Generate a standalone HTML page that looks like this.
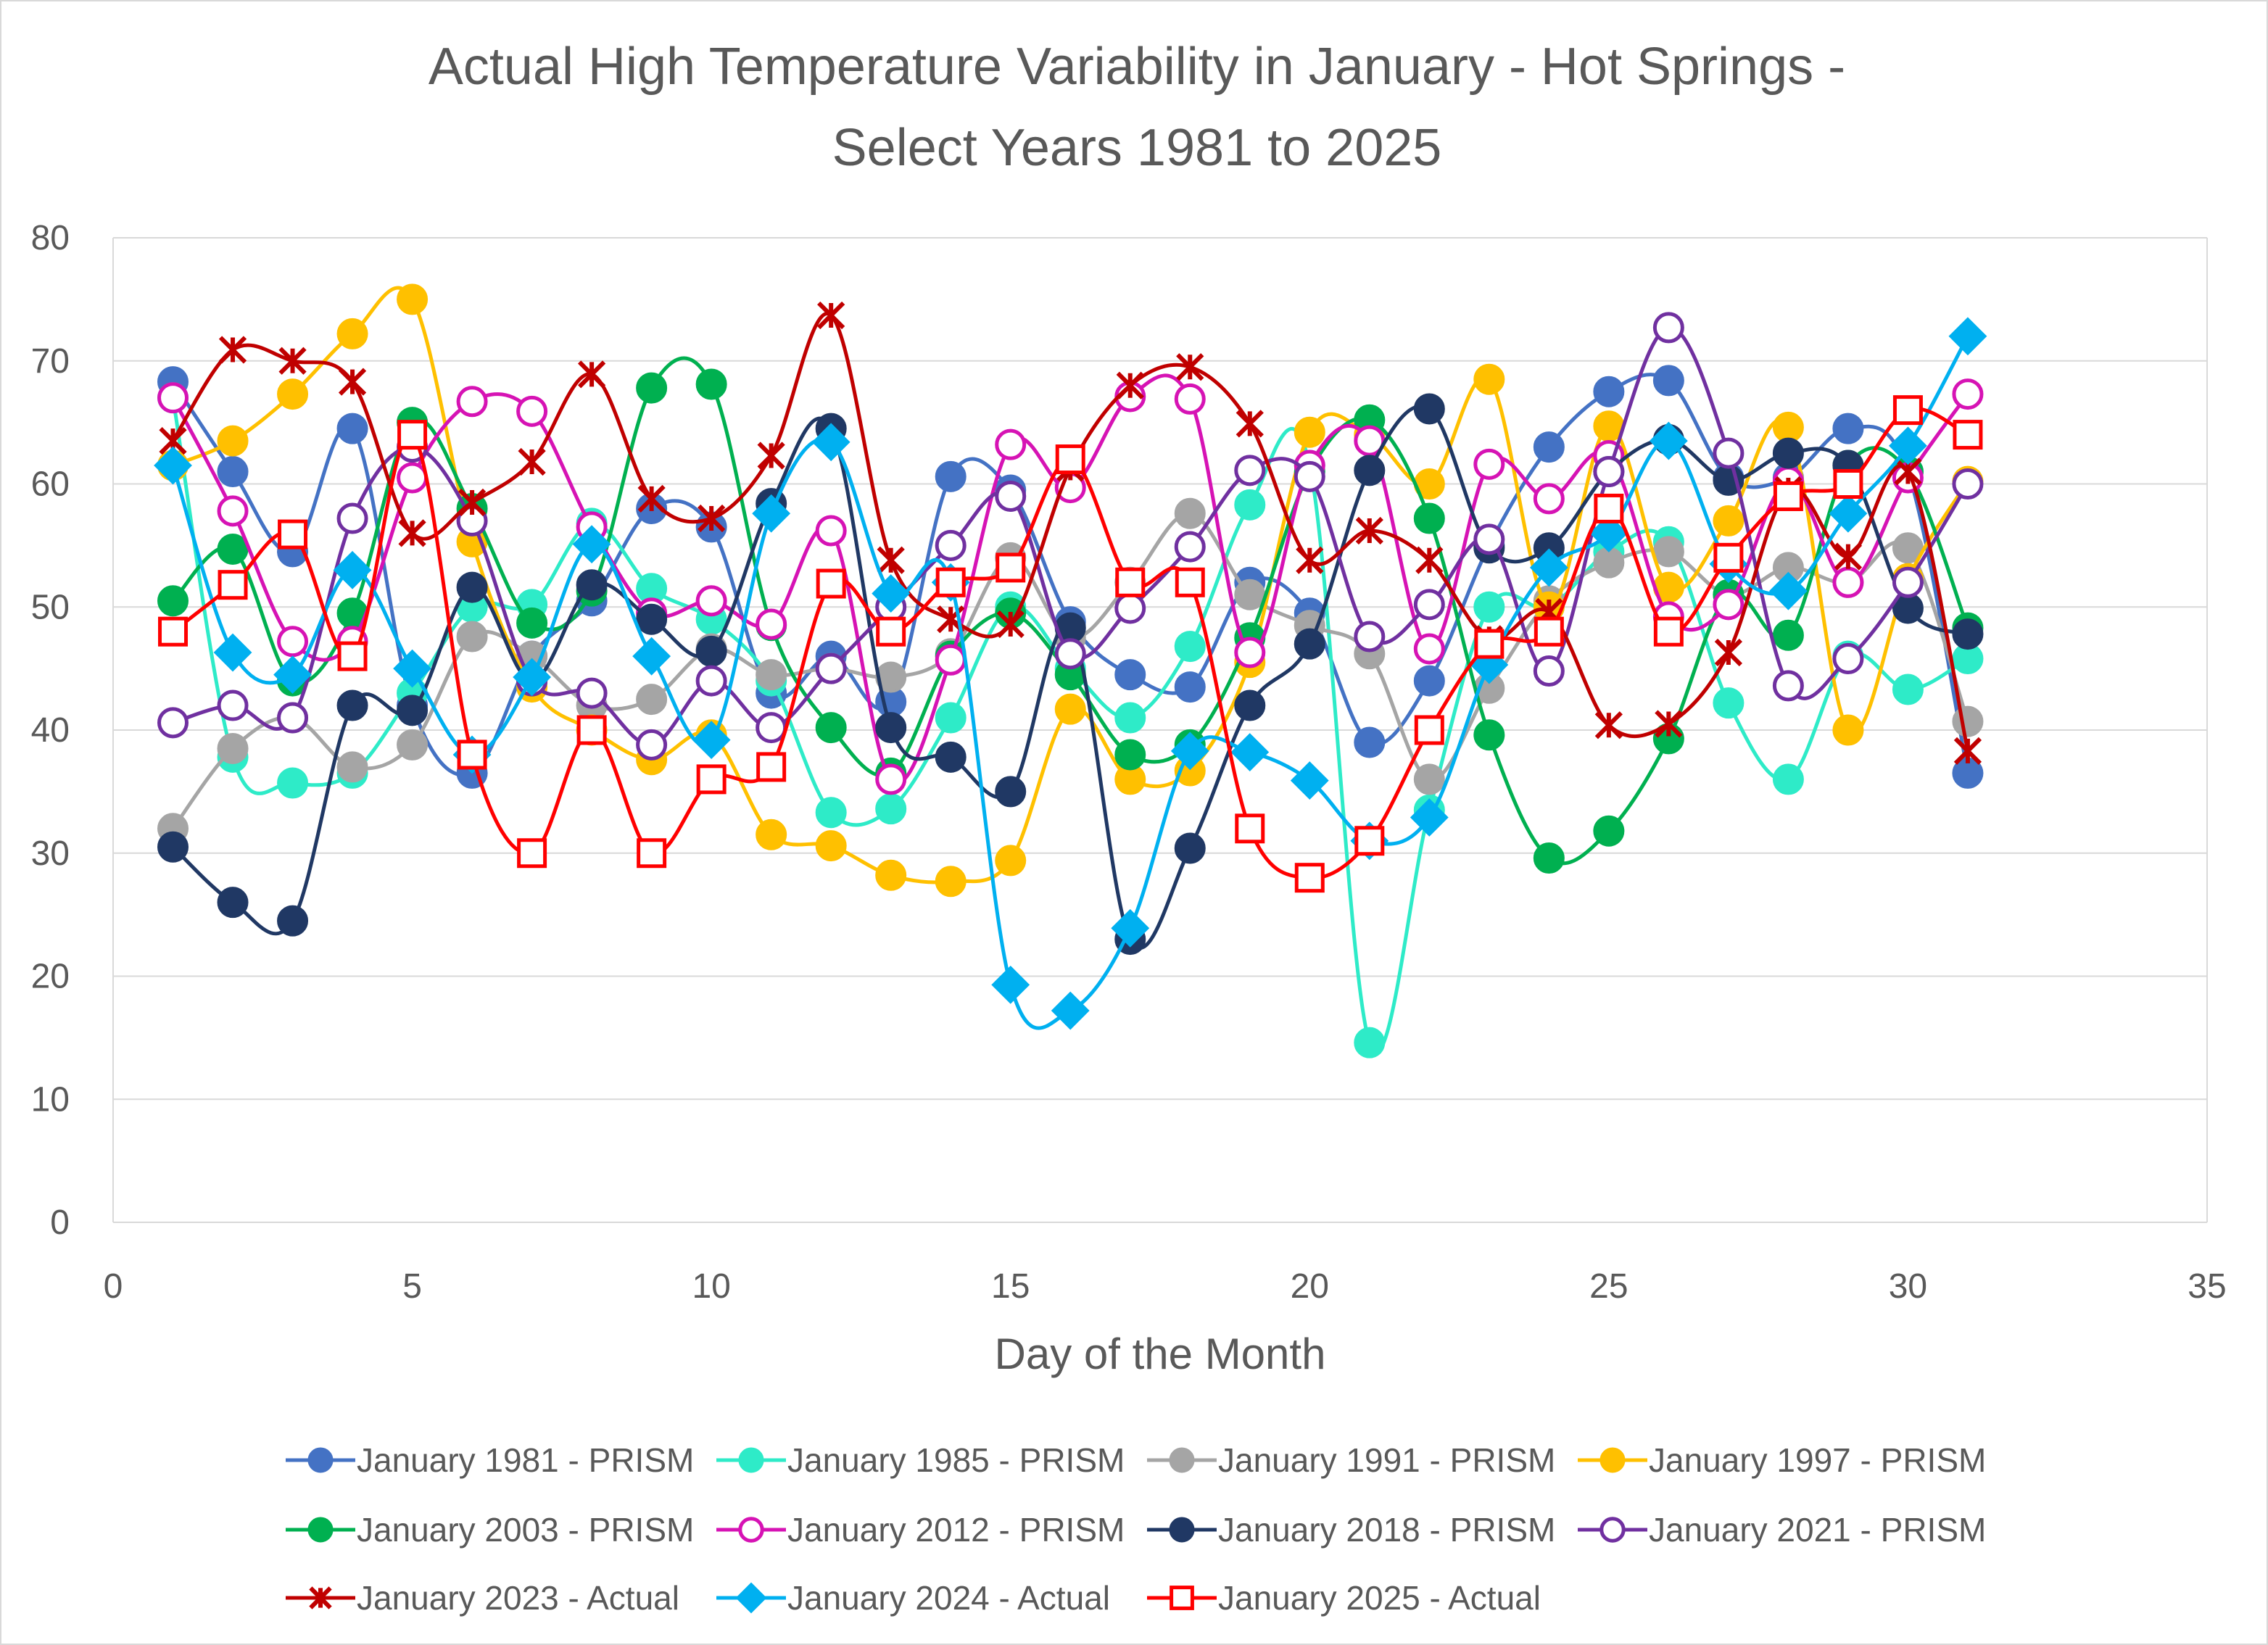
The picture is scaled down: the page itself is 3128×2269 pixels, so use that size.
<!DOCTYPE html>
<html><head><meta charset="utf-8"><style>
html,body{margin:0;padding:0;background:#fff}
svg{display:block;font-family:"Liberation Sans",sans-serif}
</style></head><body>
<svg id="chart" width="3128" height="2269" viewBox="0 0 3128 2269" xmlns="http://www.w3.org/2000/svg">
<rect x="1" y="1" width="3126" height="2267" fill="#fff" stroke="#d9d9d9" stroke-width="2"/>
<text x="1568" y="116" text-anchor="middle" font-size="72" fill="#595959">Actual High Temperature Variability in January - Hot Springs -</text>
<text x="1568" y="228" text-anchor="middle" font-size="72" fill="#595959">Select Years 1981 to 2025</text>
<g id="grid"></g>
<g id="axes"></g>
<g id="series"></g>
<text x="1600" y="1888" text-anchor="middle" font-size="60" fill="#595959">Day of the Month</text>
<g id="legend"></g>
</svg>
<script>
const days = [1,2,3,4,5,6,7,8,9,10,11,12,13,14,15,16,17,18,19,20,21,22,23,24,25,26,27,28,29,30,31];
const xTicks = [0,5,10,15,20,25,30,35];
const yTicks = [0,10,20,30,40,50,60,70,80];
const s1981 = [68.3,61,54.5,64.5,42,36.5,46,50.5,58,56.5,43,46,42.3,60.6,59.5,48.8,44.5,43.5,52,49.5,39,44,55,63,67.5,68.4,60.5,60.5,64.5,61,36.5];
const s1985 = [67,37.8,35.7,36.5,43,50,50.2,56.8,51.5,49,44,33.3,33.6,41,50,45,41,46.8,58.3,61.5,14.6,33.5,50,50,54.5,55.3,42.2,36,46,43.3,45.8];
const s1991 = [32,38.5,41,37,38.8,47.6,46,42,42.5,46.6,44.5,45,44.3,46.2,54,47.5,52,57.6,51,48.5,46.2,36,43.4,50.5,53.6,54.5,51,53.2,52,54.8,40.7];
const s1997 = [61.5,63.5,67.3,72.2,75,55.3,43.5,40,37.6,39.6,31.5,30.6,28.2,27.7,29.4,41.7,36,36.7,45.5,64.2,64,60,68.5,50,64.7,51.6,57,64.6,40,52.3,60.2];
const s2003 = [50.5,54.7,44,49.5,65,58,48.7,51.3,67.8,68.1,48.5,40.2,36.5,46,49.5,44.5,38,38.8,47.5,61,65.2,57.2,39.6,29.6,31.8,39.3,51,47.7,61.5,61,48.3];
const s2012 = [67,57.8,47.2,47.2,60.5,66.7,65.9,56.5,49.5,50.5,48.6,56.2,36,45.7,63.2,59.7,67.1,66.9,46.3,61.5,63.5,46.6,61.6,58.8,62.3,49.2,50.2,60.2,52,60.5,67.3];
const s2018 = [30.5,26,24.5,42,41.6,51.6,44,51.8,49,46.4,58.4,64.5,40.2,37.8,35,48.3,23,30.4,42,47,61.1,66.1,54.8,54.8,61,63.6,60.3,62.5,61.5,49.9,47.8];
const s2021 = [40.6,42,41,57.2,63,57,44,43,38.8,44,40.2,45,50,55,59,46.2,49.9,54.9,61.1,60.6,47.6,50.2,55.5,44.8,61,72.7,62.5,43.6,45.8,52,60];
const s2023 = [63.5,70.9,70,68.3,56,58.5,61.8,68.9,58.8,57.2,62.3,73.7,53.8,49,48.6,61.3,68,69.5,64.9,53.8,56.2,53.8,47.4,49.6,40.4,40.5,46.3,59.5,54.1,61,38.3];
const s2024 = [61.5,46.3,44.5,53,45,38,44.3,55.1,46,39.2,57.6,63.4,51.1,52,19.3,17.2,23.9,38.3,38.2,35.9,31,32.9,45.3,53.2,56,63.5,53.5,51.3,57.6,63.1,72];
const s2025 = [48,51.8,55.9,46,64,38,30,40,30,36,37,51.9,48,52,53.2,62,52,52,32,28,31,40,47,48,58,48,54,59,60,66,64];
const seriesNames = ["January 1981 - PRISM","January 1985 - PRISM","January 1991 - PRISM","January 1997 - PRISM","January 2003 - PRISM","January 2012 - PRISM","January 2018 - PRISM","January 2021 - PRISM","January 2023 - Actual","January 2024 - Actual","January 2025 - Actual"];
const seriesData = [s1981,s1985,s1991,s1997,s2003,s2012,s2018,s2021,s2023,s2024,s2025];
const colors = ["#4472C4","#2EEBC8","#A5A5A5","#FFC000","#00B050","#D613B4","#203864","#7030A0","#C00000","#00B0F0","#FF0000"];
const markers = ["circle","circle","circle","circle","circle","ocircle","circle","ocircle","star","diamond","square"];

const NS="http://www.w3.org/2000/svg";
const PX0=156, PX1=3044, PY0=1686, PY1=328;
const xScale=v=>PX0+(v-0)/(35-0)*(PX1-PX0);
const yScale=v=>PY0-(v-0)/(80-0)*(PY0-PY1);
function mk(tag,attrs,parent){const e=document.createElementNS(NS,tag);for(const k in attrs)e.setAttribute(k,attrs[k]);parent.appendChild(e);return e;}
const grid=document.getElementById('grid'),axes=document.getElementById('axes'),sg=document.getElementById('series'),lg=document.getElementById('legend');
yTicks.forEach(t=>{
  const l=mk('line',{x1:PX0,x2:PX1,y1:yScale(t),y2:yScale(t),stroke:'#d9d9d9','stroke-width':2},grid);
  
  
  const tx=mk('text',{x:PX0-60,y:yScale(t)+16,'text-anchor':'end','font-size':48,fill:'#595959'},axes);
  tx.textContent=t;
  
  
});
const bl=mk('line',{x1:PX0,x2:PX0,y1:PY1,y2:PY0,stroke:'#d9d9d9','stroke-width':2},grid);


const br=mk('line',{x1:PX1,x2:PX1,y1:PY1,y2:PY0,stroke:'#d9d9d9','stroke-width':2},grid);


xTicks.forEach(t=>{
  const tx=mk('text',{x:xScale(t),y:1790,'text-anchor':'middle','font-size':48,fill:'#595959'},axes);
  tx.textContent=t;
  
  
});
function smoothPath(pts){
  let d='M'+pts[0][0]+','+pts[0][1];
  for(let i=0;i<pts.length-1;i++){
    const p0=pts[i-1]||pts[i],p1=pts[i],p2=pts[i+1],p3=pts[i+2]||p2;
    const c1=[p1[0]+(p2[0]-p0[0])/6,p1[1]+(p2[1]-p0[1])/6];
    const c2=[p2[0]-(p3[0]-p1[0])/6,p2[1]-(p3[1]-p1[1])/6];
    d+=' C'+c1+' '+c2+' '+p2;
  }
  return d;
}
function drawMarker(g,type,x,y,c,s){
  let e;
  if(type==='circle') e=mk('circle',{cx:x,cy:y,r:20*s,fill:c,stroke:c,'stroke-width':3},g);
  else if(type==='ocircle') e=mk('circle',{cx:x,cy:y,r:19*s,fill:'#fff',stroke:c,'stroke-width':5},g);
  else if(type==='square') e=mk('rect',{x:x-18*s,y:y-18*s,width:36*s,height:36*s,fill:'#fff',stroke:c,'stroke-width':5},g);
  else if(type==='diamond') e=mk('path',{d:`M${x},${y-25*s}L${x+25*s},${y}L${x},${y+25*s}L${x-25*s},${y}Z`,fill:c,stroke:c,'stroke-width':2},g);
  else { const r=17*s; e=mk('path',{d:`M${x-r},${y-r}L${x+r},${y+r}M${x+r},${y-r}L${x-r},${y+r}M${x},${y-r}L${x},${y+r}`,stroke:c,'stroke-width':6,fill:'none'},g); }
  return e;
}
seriesData.forEach((data,si)=>{
  const g=mk('g',{},sg);
  
  
  const pts=days.map((d,i)=>[xScale(d),yScale(data[i])]);
  const p=mk('path',{d:smoothPath(pts),fill:'none',stroke:colors[si],'stroke-width':5},g);
  
  
  pts.forEach((pt,i)=>{
    const m=drawMarker(g,markers[si],pt[0],pt[1],colors[si],1);
    
    
  });
});
const colX=[394,988,1582,2176], rowY=[2014,2110,2204];
seriesNames.forEach((n,i)=>{
  const x=colX[i%4], y=rowY[Math.floor(i/4)];
  const g=mk('g',{},lg);
  
  
  mk('line',{x1:x,x2:x+96,y1:y,y2:y,stroke:colors[i],'stroke-width':5},g);
  drawMarker(g,markers[i],x+48,y,colors[i],0.8);
  const t=mk('text',{x:x+98,y:y+16,'font-size':46,fill:'#595959'},g);
  t.textContent=n;
});
</script>
</body></html>
